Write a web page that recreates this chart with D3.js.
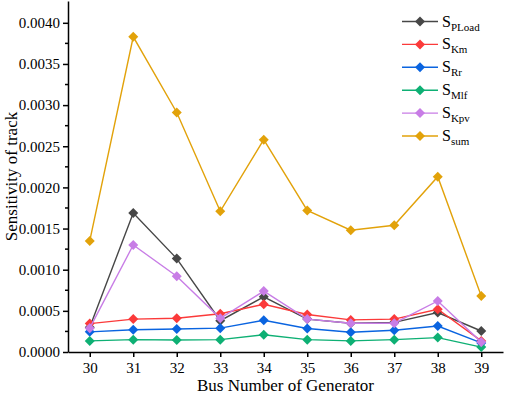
<!DOCTYPE html>
<html>
<head>
<meta charset="utf-8">
<script src="https://cdn.jsdelivr.net/npm/d3@7"></script>
<style>
  html, body { margin: 0; padding: 0; background: #fff; }
  svg text { font-family: "Liberation Serif", "Times New Roman", serif; }
</style>
</head>
<body>
<div id="chart"></div>
<script>
const buses = [30, 31, 32, 33, 34, 35, 36, 37, 38, 39];
const sPLoad = [0.00030, 0.00169, 0.001135, 0.00038, 0.00067, 0.00040, 0.00035, 0.00036, 0.00048, 0.000255];
const sKm    = [0.000345, 0.00040, 0.00041, 0.000465, 0.00058, 0.000455, 0.00039, 0.00040, 0.00052, 0.000135];
const sRr    = [0.000245, 0.00027, 0.00028, 0.00029, 0.000385, 0.000285, 0.00024, 0.000265, 0.000315, 0.00011];
const sMlf   = [0.000135, 0.00015, 0.000145, 0.00015, 0.00021, 0.00015, 0.000135, 0.00015, 0.000175, 0.00006];
const sKpv   = [0.00029, 0.00130, 0.00092, 0.00041, 0.00074, 0.00040, 0.00035, 0.00035, 0.00062, 0.00012];
const sSum   = [0.00135, 0.00383, 0.00291, 0.00171, 0.00258, 0.00172, 0.00148, 0.00154, 0.00213, 0.00068];
const yTicks = [0, 0.0005, 0.001, 0.0015, 0.002, 0.0025, 0.003, 0.0035, 0.004];

const seriesNames = ["PLoad", "Km", "Rr", "Mlf", "Kpv", "sum"];
const seriesValues = [sPLoad, sKm, sRr, sMlf, sKpv, sSum];
const colors = ["#474747", "#fb3a3a", "#0a64e0", "#0eb074", "#c87de6", "#e2a20a"];

const width = 505, height = 394;
const margin = { left: 68, right: 2, top: 1, bottom: 42 };
const serif = "'Liberation Serif', 'Times New Roman', serif";

const svg = d3.select("#chart").append("svg")
  .attr("width", width).attr("height", height)
  .attr("font-family", serif);

const x = d3.scaleLinear().domain([29.5, 39.5]).range([margin.left, width - margin.right]);
const y = d3.scaleLinear().domain([0, 0.004265]).range([height - margin.bottom, margin.top]);

// axes
const xAxis = svg.append("g")
  .attr("transform", `translate(0,${height - margin.bottom})`)
  .call(d3.axisBottom(x).tickValues(buses).tickFormat(d3.format("d")).tickSize(5).tickSizeOuter(0));
const yAxis = svg.append("g")
  .attr("transform", `translate(${margin.left},0)`)
  .call(d3.axisLeft(y).tickValues(yTicks).tickFormat(d3.format(".4f")).tickSize(5).tickSizeOuter(0));

// minor y ticks
const minor = d3.range(0.00025, 0.0042, 0.0005);
svg.append("g").selectAll("line").data(minor).join("line")
  .attr("x1", margin.left - 3).attr("x2", margin.left)
  .attr("y1", d => y(d)).attr("y2", d => y(d))
  .attr("stroke", "#000").attr("stroke-width", 1.5);

[xAxis, yAxis].forEach(a => {
  a.attr("font-family", serif).attr("font-size", 15);
  a.select(".domain").attr("stroke", "#000").attr("stroke-width", 1.5);
  a.selectAll(".tick line").attr("stroke", "#000").attr("stroke-width", 1.5);
  a.selectAll("text").attr("fill", "#000");
});
yAxis.selectAll("text").attr("x", -8);
xAxis.selectAll("text").attr("y", 10);

// titles
svg.append("text")
  .attr("transform", `translate(17,${(height - margin.bottom + margin.top) / 2}) rotate(-90)`)
  .attr("text-anchor", "middle")
  .attr("font-size", 17)
  .text("Sensitivity of track");
svg.append("text")
  .attr("x", (margin.left + width - margin.right) / 2)
  .attr("y", 391)
  .attr("text-anchor", "middle")
  .attr("font-size", 17)
  .text("Bus Number of Generator");

const diamond = d3.symbol().type(d3.symbolDiamond2).size(64);
const line = d3.line().x((d, i) => x(buses[i])).y(d => y(d));

const plot = svg.append("g");
seriesValues.forEach((vals, k) => {
  const g = plot.append("g");
  g.append("path").datum(vals)
    .attr("d", line)
    .attr("fill", "none")
    .attr("stroke", colors[k])
    .attr("stroke-width", 1.4);
  g.selectAll("path.pt").data(vals).join("path")
    .attr("class", "pt")
    .attr("transform", (d, i) => `translate(${x(buses[i])},${y(d)})`)
    .attr("d", diamond)
    .attr("fill", colors[k]);
});

// legend
const legend = svg.append("g");
seriesNames.forEach((name, k) => {
  const ly = 21.5 + k * 22.9;
  legend.append("line")
    .attr("x1", 402).attr("x2", 438).attr("y1", ly).attr("y2", ly)
    .attr("stroke", colors[k]).attr("stroke-width", 1.4);
  legend.append("path")
    .attr("transform", `translate(420,${ly})`)
    .attr("d", diamond)
    .attr("fill", colors[k]);
  const t = legend.append("text").attr("x", 442).attr("y", ly + 5)
    .attr("font-size", 16);
  t.append("tspan").text("S");
  t.append("tspan").attr("dy", 4).attr("font-size", 11).text(name);
});
</script>
</body>
</html>
